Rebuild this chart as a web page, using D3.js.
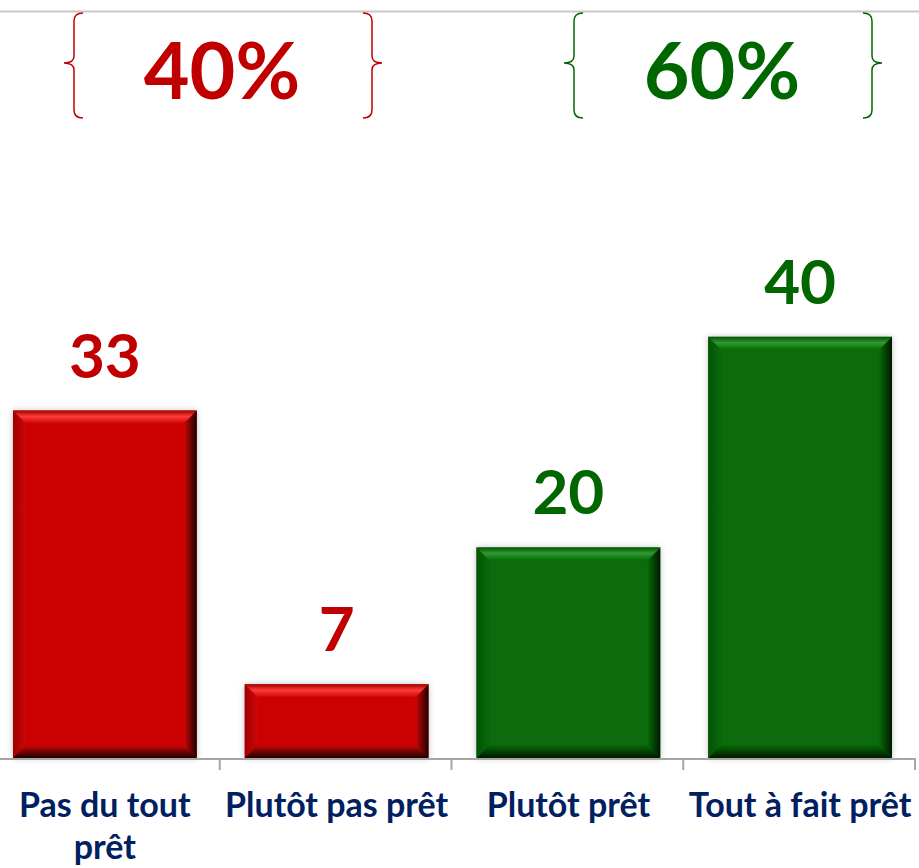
<!DOCTYPE html>
<html>
<head>
<meta charset="utf-8">
<script src="https://cdn.jsdelivr.net/npm/d3@7"></script>
<style>
  body { margin: 0; background: #fff; }
  svg { display: block; }
</style>
</head>
<body>
<div id="chart"></div>
<script>
const categories = ["Pas du tout prêt", "Plutôt pas prêt", "Plutôt prêt", "Tout à fait prêt"];
const values = [33, 7, 20, 40];
const groups = ["neg", "neg", "pos", "pos"];
const totals = [
  { label: "40%", group: "neg", cx: 222 },
  { label: "60%", group: "pos", cx: 722 }
];

const width = 919;
const height = 868;
const baseline = 758;

const palette = {
  neg: { base: "#cc0606", light: "#ff3a3a", edge: "#a00000", dark: "#1e0000", text: "#c00000" },
  pos: { base: "#076b07", light: "#2f9a2f", edge: "#055205", dark: "#001800", text: "#006600" }
};

const svg = d3.select("#chart")
  .append("svg")
  .attr("width", width)
  .attr("height", height);

const defs = svg.append("defs");

defs.append("filter")
  .attr("id", "shadow")
  .attr("x", "-10%").attr("y", "-10%")
  .attr("width", "120%").attr("height", "120%")
  .append("feDropShadow")
  .attr("dx", 0).attr("dy", 0)
  .attr("stdDeviation", 3)
  .attr("flood-color", "#000")
  .attr("flood-opacity", 0.25);

// gradients for the bevel faces
function grad(id, x2, y2, stops) {
  const g = defs.append("linearGradient")
    .attr("id", id)
    .attr("x1", 0).attr("y1", 0)
    .attr("x2", x2).attr("y2", y2);
  stops.forEach(s => g.append("stop").attr("offset", s[0]).attr("stop-color", s[1]));
}
Object.keys(palette).forEach(k => {
  const p = palette[k];
  grad(k + "-top", 0, 1, [[0, p.edge], [0.45, p.light], [1, p.base]]);
  grad(k + "-right", 1, 0, [[0, p.base], [1, p.dark]]);
  grad(k + "-left", 1, 0, [[0, p.edge], [1, p.base]]);
  grad(k + "-bottom", 0, 1, [[0, p.base], [1, p.dark]]);
});

const x = d3.scaleBand()
  .domain(categories)
  .range([-11, 916])
  .paddingInner(0.207)
  .paddingOuter(0.1035);

const y = d3.scaleLinear()
  .domain([0, 70])
  .range([baseline, 21]);

// top border line
svg.append("line")
  .attr("x1", 0).attr("x2", width)
  .attr("y1", 11.5).attr("y2", 11.5)
  .attr("stroke", "#c8c8c8")
  .attr("stroke-width", 2);

const data = categories.map((c, i) => ({ cat: c, value: values[i], group: groups[i] }));

const b = 13;
const bars = svg.selectAll("g.bar")
  .data(data)
  .join("g")
  .attr("class", "bar");

bars.append("rect")
  .attr("x", d => x(d.cat))
  .attr("y", d => y(d.value))
  .attr("width", x.bandwidth())
  .attr("height", d => baseline - y(d.value))
  .attr("fill", d => palette[d.group].base)
  .attr("filter", "url(#shadow)");

function face(side, d) {
  const x0 = x(d.cat), x1 = x0 + x.bandwidth();
  const y0 = y(d.value), y1 = baseline;
  const bb = Math.min(b, (y1 - y0) / 2);
  const pts = {
    top: [[x0, y0], [x1, y0], [x1 - bb, y0 + bb], [x0 + bb, y0 + bb]],
    bottom: [[x0 + bb, y1 - bb], [x1 - bb, y1 - bb], [x1, y1], [x0, y1]],
    left: [[x0, y0], [x0 + bb, y0 + bb], [x0 + bb, y1 - bb], [x0, y1]],
    right: [[x1 - bb, y0 + bb], [x1, y0], [x1, y1], [x1 - bb, y1 - bb]]
  }[side];
  return pts.map(p => p.join(",")).join(" ");
}

["left", "bottom", "right", "top"].forEach(side => {
  bars.append("polygon")
    .attr("points", d => face(side, d))
    .attr("fill", d => `url(#${d.group}-${side})`);
});

// value labels
bars.append("text")
  .attr("x", d => x(d.cat) + x.bandwidth() / 2)
  .attr("y", d => y(d.value) - 33)
  .attr("text-anchor", "middle")
  .attr("font-family", "Lato, 'Open Sans', sans-serif")
  .attr("font-weight", "bold")
  .attr("font-size", 62)
  .attr("fill", d => palette[d.group].text)
  .text(d => d.value);

// x axis
svg.append("line")
  .attr("x1", 0).attr("x2", 915)
  .attr("y1", baseline + 1).attr("y2", baseline + 1)
  .attr("stroke", "#a6a6a6")
  .attr("stroke-width", 2);

svg.selectAll("line.tick")
  .data(categories)
  .join("line")
  .attr("class", "tick")
  .attr("x1", d => x(d) + x.step() - x.step() * x.paddingInner() / 2 - 1)
  .attr("x2", d => x(d) + x.step() - x.step() * x.paddingInner() / 2 - 1)
  .attr("y1", baseline).attr("y2", baseline + 12)
  .attr("stroke", "#a6a6a6")
  .attr("stroke-width", 2);

const labels = svg.selectAll("text.cat")
  .data(categories)
  .join("text")
  .attr("class", "cat")
  .attr("text-anchor", "middle")
  .attr("font-family", "Lato, 'Open Sans', sans-serif")
  .attr("font-weight", "bold")
  .attr("font-size", 34)
  .attr("fill", "#002060");

labels.selectAll("tspan")
  .data(d => {
    const lines = d === "Pas du tout prêt" ? ["Pas du tout", "prêt"] : [d];
    return lines.map(t => ({ t, cat: d }));
  })
  .join("tspan")
  .attr("x", d => x(d.cat) + x.bandwidth() / 2)
  .attr("y", (d, i) => 817 + i * 42)
  .text(d => d.t);

// braces with totals
function brace(cx, half, dir) {
  // dir = -1 for left brace, 1 for right brace
  const v = cx + dir * (half - 10);
  const tip = cx + dir * half;
  const end = cx + dir * (half - 19);
  const t = 13, m = 63, bt = 118;
  return `M${end},${t} Q${v},${t} ${v},${t + 8} L${v},${m - 7} Q${v},${m} ${tip},${m} ` +
    `Q${v},${m} ${v},${m + 7} L${v},${bt - 8} Q${v},${bt} ${end},${bt}`;
}

const tg = svg.selectAll("g.total")
  .data(totals)
  .join("g")
  .attr("class", "total");

tg.append("path")
  .attr("d", d => brace(d.cx, 158, -1))
  .attr("fill", "none")
  .attr("stroke", d => palette[d.group].text)
  .attr("stroke-width", 1.5);

tg.append("path")
  .attr("d", d => brace(d.cx, 160, 1))
  .attr("fill", "none")
  .attr("stroke", d => palette[d.group].text)
  .attr("stroke-width", 1.5);

tg.append("text")
  .attr("x", d => d.cx)
  .attr("y", 99)
  .attr("text-anchor", "middle")
  .attr("font-family", "Lato, 'Open Sans', sans-serif")
  .attr("font-weight", "bold")
  .attr("font-size", 79)
  .attr("fill", d => palette[d.group].text)
  .text(d => d.label);
</script>
</body>
</html>
